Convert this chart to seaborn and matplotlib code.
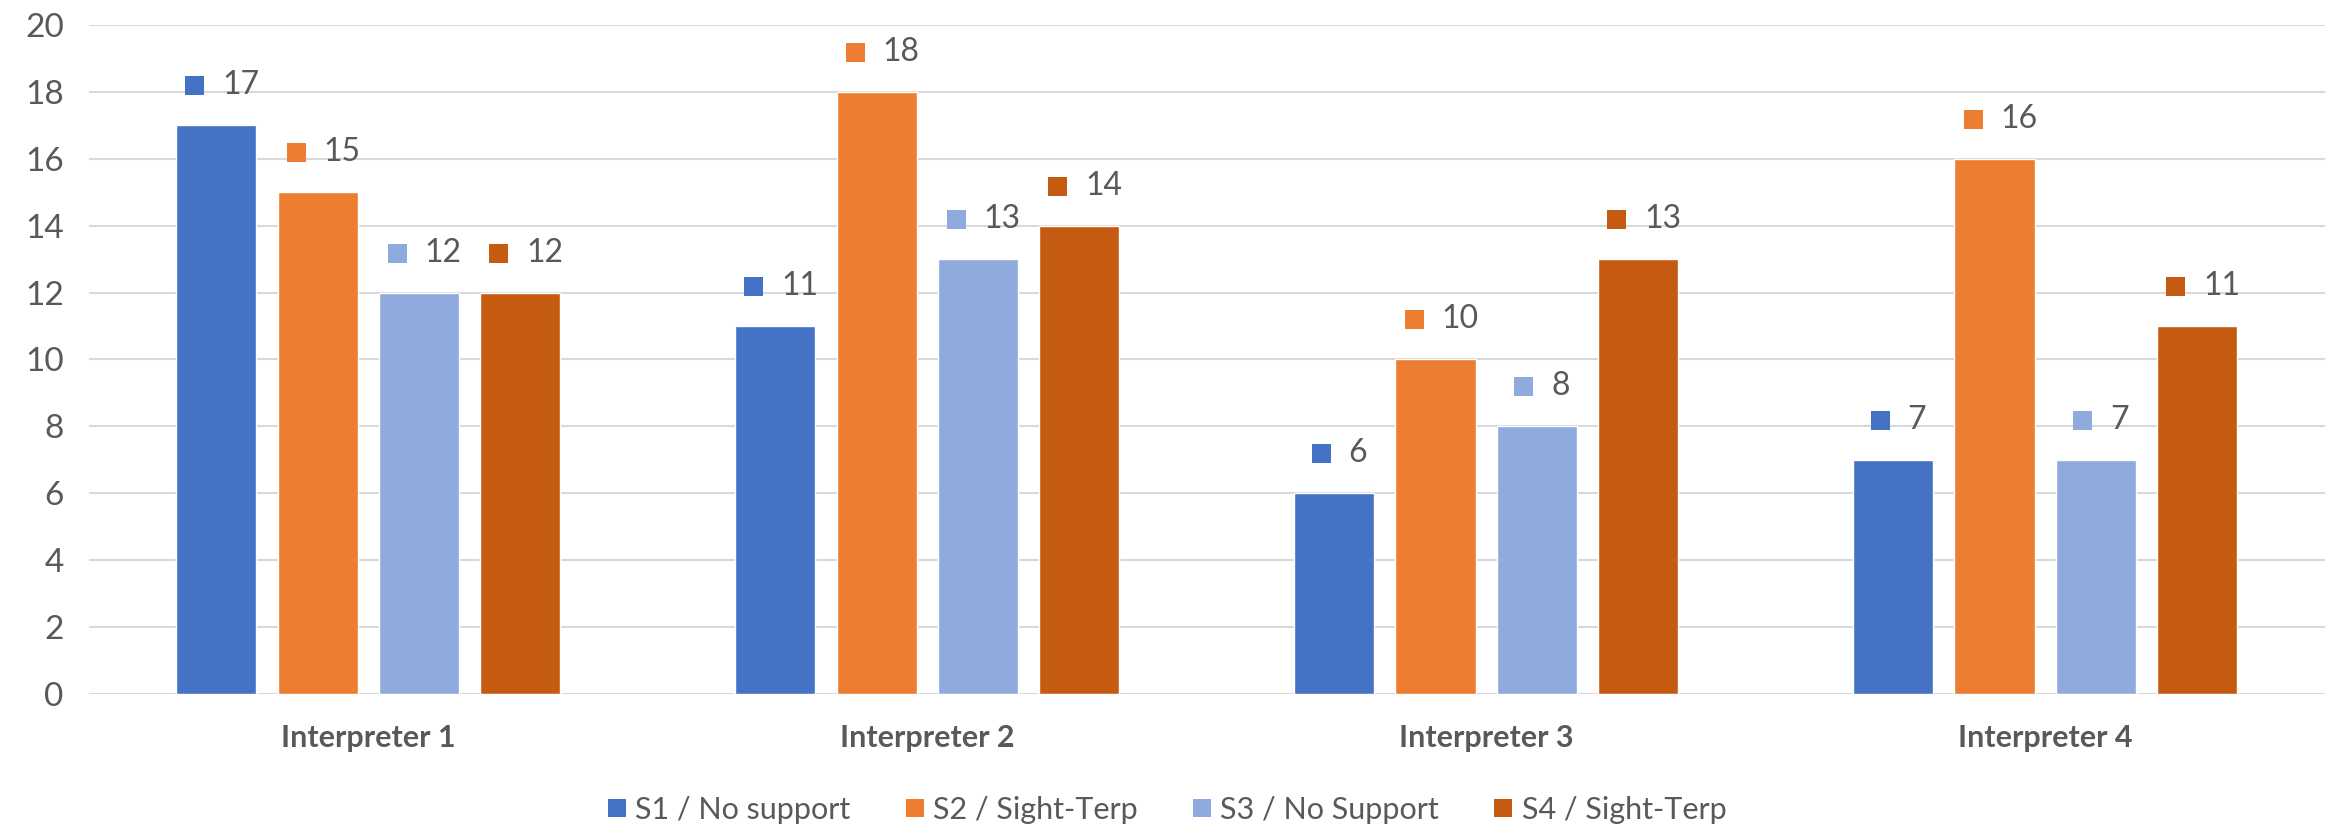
import numpy as np
import pandas as pd
import matplotlib
matplotlib.use("Agg")
import matplotlib.pyplot as plt
import matplotlib.transforms as mtransforms
from matplotlib.lines import Line2D
import seaborn as sns

categories = ["Interpreter 1", "Interpreter 2", "Interpreter 3", "Interpreter 4"]
series = ["S1 / No support", "S2 / Sight-Terp", "S3 / No Support", "S4 / Sight-Terp"]
s1_values = [17, 11, 6, 7]
s2_values = [15, 18, 10, 16]
s3_values = [12, 13, 8, 7]
s4_values = [12, 14, 13, 11]
y_ticks = [0, 2, 4, 6, 8, 10, 12, 14, 16, 18, 20]

colors = ["#4472C4", "#ED7D31", "#8FAADC", "#C55A11"]
text_color = "#595959"

rows = []
for name, vals in zip(series, [s1_values, s2_values, s3_values, s4_values]):
    for cat, v in zip(categories, vals):
        rows.append({"Interpreter": cat, "Series": name, "Count": v})
df = pd.DataFrame(rows)

sns.set_theme(style="white")
plt.rcParams["font.family"] = ["Lato", "DejaVu Sans"]

fig = plt.figure(figsize=(23.34, 8.33), dpi=100)
ax = fig.add_axes([0.038, 0.167, 0.958, 0.803])

sns.barplot(data=df, x="Interpreter", y="Count", hue="Series",
            order=categories, hue_order=series, palette=colors,
            width=0.725, gap=0.21, saturation=1, errorbar=None,
            legend=False, ax=ax)

ax.set_ylim(0, 20)
ax.set_yticks(y_ticks)
ax.yaxis.grid(True, color="#D9D9D9", linewidth=1.5)
ax.set_axisbelow(True)
for sp in ax.spines.values():
    sp.set_visible(False)
ax.set_xlabel("")
ax.set_ylabel("")
ax.tick_params(axis="y", length=0, pad=18, labelsize=24, labelcolor=text_color)
ax.tick_params(axis="x", length=0, pad=22, labelsize=22, labelcolor=text_color)
for t in ax.get_xticklabels():
    t.set_fontweight("bold")

# value labels with a colour key square, centred above each bar
px = 72.0 / fig.dpi
for container, col in zip(ax.containers, colors):
    for bar in container:
        h = bar.get_height()
        cx = bar.get_x() + bar.get_width() / 2
        label = f"{h:.0f}"
        w = 17 * len(label)
        total = 20 + 18 + w
        start = -total / 2 + 4
        tr = mtransforms.offset_copy(ax.transData, fig=fig,
                                     x=(start + 10) * px, y=40 * px, units="points")
        ax.scatter([cx], [h], marker="s", s=(19 * px) ** 2, color=col,
                   transform=tr, zorder=5, linewidths=0, clip_on=False)
        ax.annotate(label, xy=(cx, h), xytext=((start + 38) * px, 40 * px),
                    textcoords="offset points", ha="left", va="center",
                    fontsize=23, color=text_color)

ax.set_xlim(-0.5, len(categories) - 0.5)

handles = [Line2D([0], [0], marker="s", linestyle="none", markersize=12.5,
                  markerfacecolor=c, markeredgewidth=0) for c in colors]
fig.legend(handles, series, loc="lower center", bbox_to_anchor=(0.5, -0.022),
           ncol=4, frameon=False, fontsize=22, handlelength=0.6,
           handletextpad=0.3, columnspacing=1.8, labelcolor=text_color)

fig.savefig("out.png", dpi=100)
